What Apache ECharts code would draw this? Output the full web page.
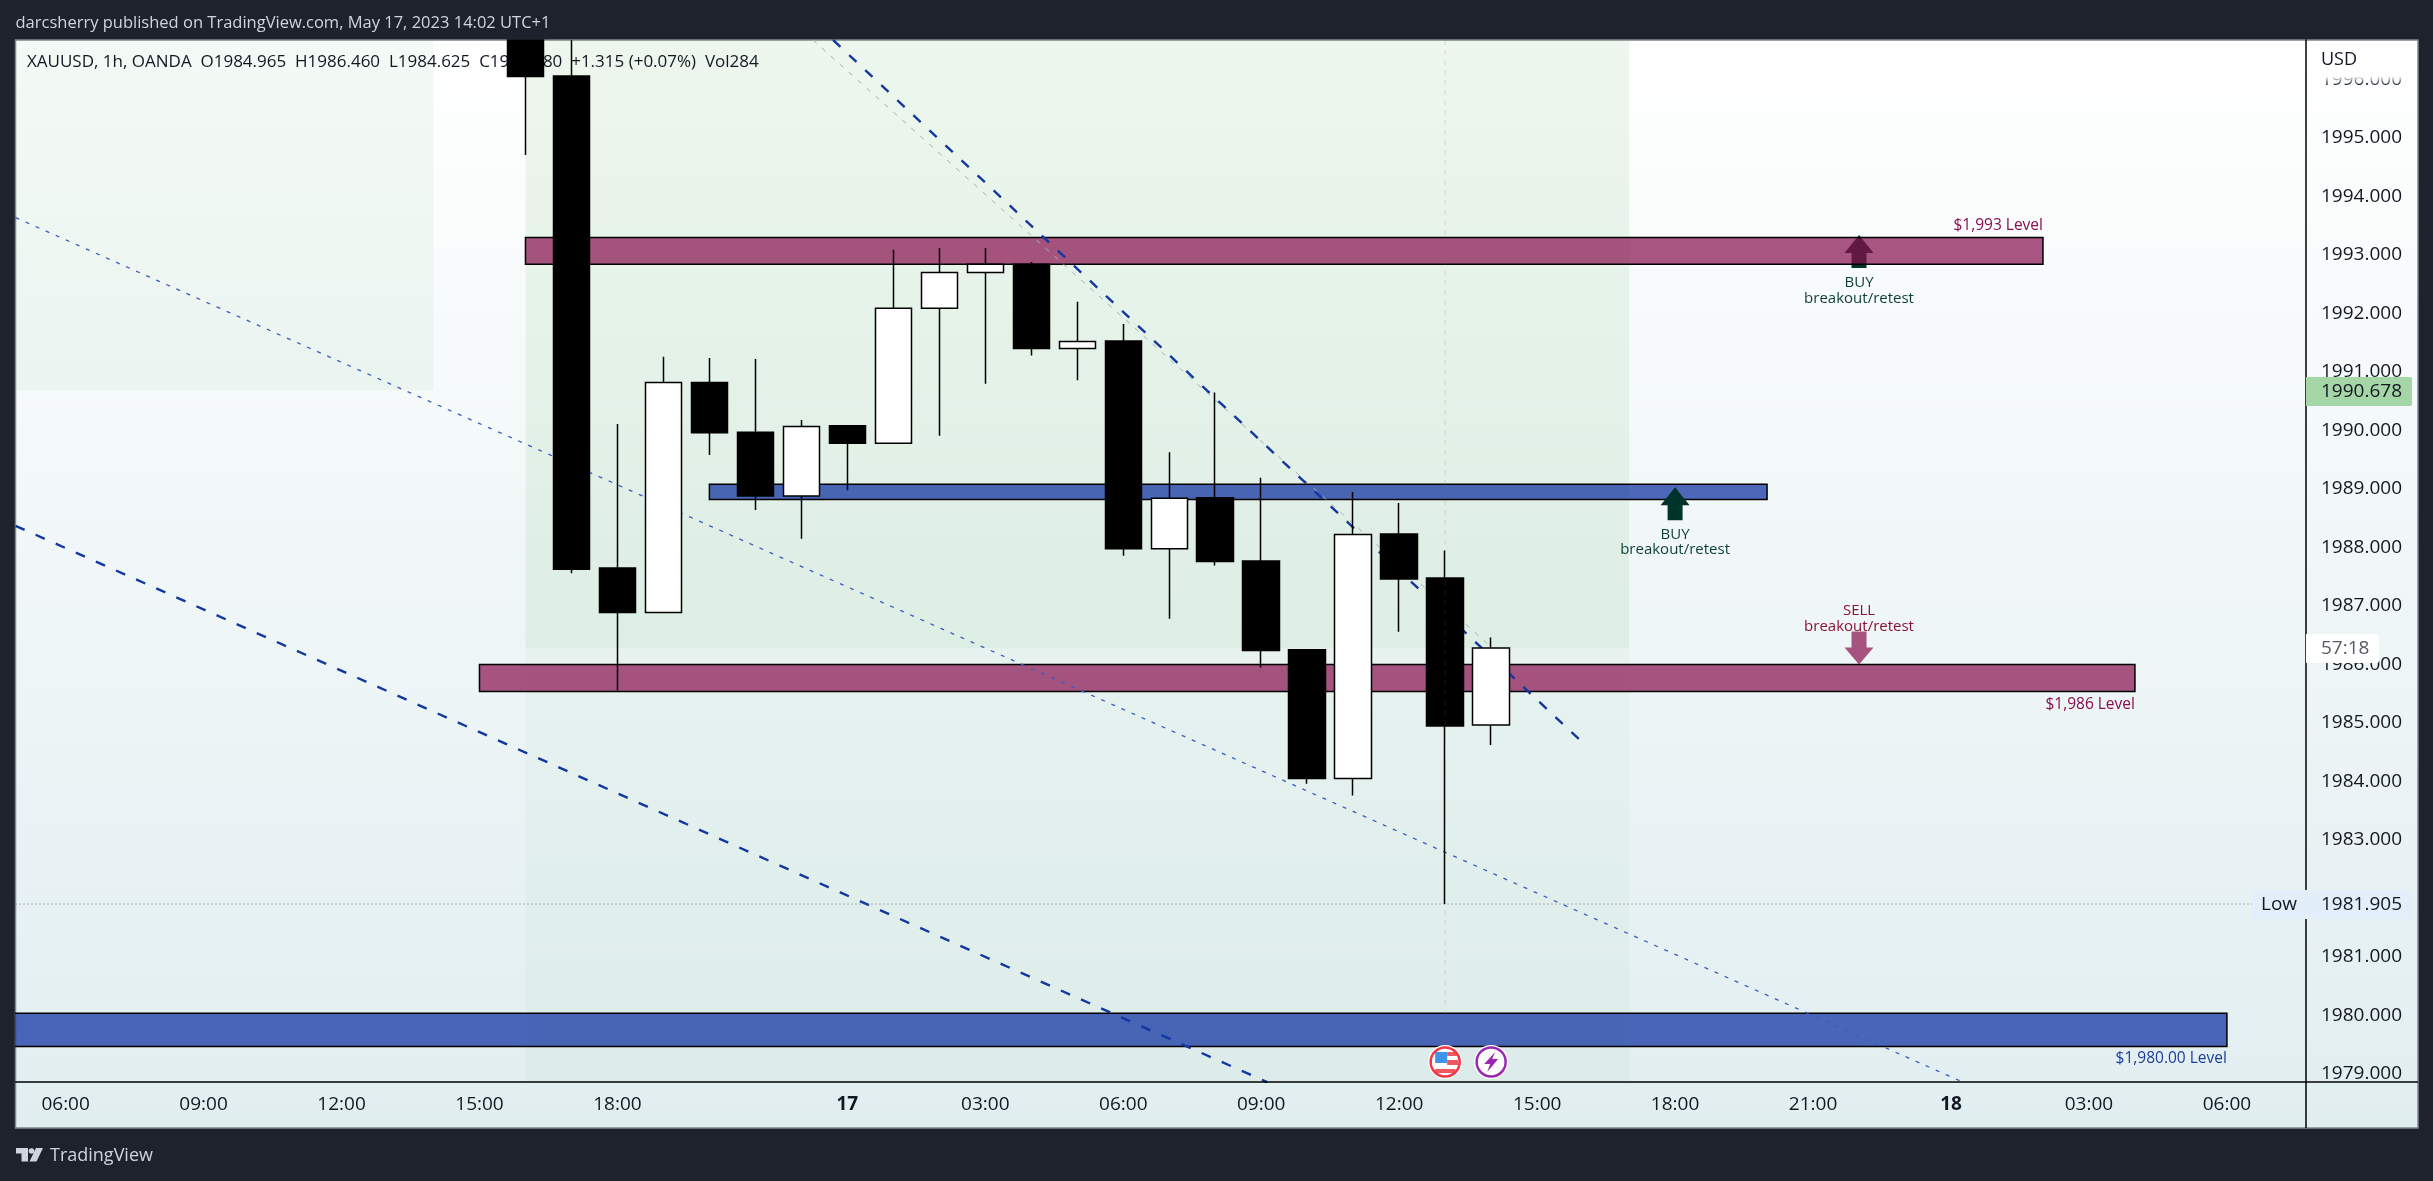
<!DOCTYPE html>
<html>
<head>
<meta charset="utf-8">
<title>XAUUSD 1h</title>
<script src="https://cdn.jsdelivr.net/npm/echarts@6/dist/echarts.min.js"></script>
<style>
html, body { margin: 0; padding: 0; background: #1e222d; }
#chart { width: 2433px; height: 1181px; }
</style>
</head>
<body>
<div id="chart"></div>
<script>
// bar index 0 = 06:00 on the 16th, one index per traded hour
var candleIdx = [10, 11, 12, 13, 14, 15, 16, 17, 18, 19, 20, 21, 22, 23, 24, 25, 26, 27, 28, 29, 30, 31];
// the first two candles run off the top of the pane, so they stop at the pane edge here
var candleOpen = [1996.675, 1996.06, 1987.65, 1986.89, 1990.82, 1989.97, 1988.88, 1990.08, 1989.78, 1992.09, 1992.70, 1992.84, 1991.40, 1991.53, 1987.98, 1988.85, 1987.77, 1986.25, 1984.05, 1988.23, 1987.48, 1984.965];
var candleClose = [1996.05, 1987.63, 1986.89, 1990.82, 1989.96, 1988.88, 1990.07, 1989.78, 1992.09, 1992.70, 1992.84, 1991.40, 1991.52, 1987.98, 1988.84, 1987.76, 1986.24, 1984.05, 1988.22, 1987.46, 1984.95, 1986.28];
var candleLow = [1994.71, 1987.56, 1985.56, 1986.89, 1989.58, 1988.64, 1988.15, 1988.98, 1989.78, 1989.91, 1990.80, 1991.28, 1990.86, 1987.86, 1986.78, 1987.69, 1985.95, 1983.96, 1983.76, 1986.56, 1981.905, 1984.625];
var candleHigh = [1996.675, 1996.675, 1990.11, 1991.26, 1991.24, 1991.22, 1990.18, 1990.08, 1993.09, 1993.12, 1993.12, 1992.88, 1992.20, 1991.82, 1989.63, 1990.65, 1989.19, 1986.25, 1988.95, 1988.76, 1987.95, 1986.46];

var xTickValues = [0, 3, 6, 9, 12, 17, 20, 23, 26, 29, 32, 35, 38, 41, 44, 47];
var xTickLabels = ['06:00', '09:00', '12:00', '15:00', '18:00', '17', '03:00', '06:00', '09:00', '12:00', '15:00', '18:00', '21:00', '18', '03:00', '06:00'];
var yTickValues = [1979, 1980, 1981, 1982, 1983, 1984, 1985, 1986, 1987, 1988, 1989, 1990, 1991, 1992, 1993, 1994, 1995, 1996];

// shaded zones
var zoneX0 = [-3, 10, 10];
var zoneX1 = [8, 34, 34];
var zoneHigh = [1998, 1998, 1986.28];
var zoneLow = [1990.69, 1986.28, 1975];

// level bands
var bandX0 = [10, 14, 9, -3];
var bandX1 = [43, 37, 45, 47];
var bandHigh = [1993.30, 1989.08, 1986.00, 1980.04];
var bandLow = [1992.84, 1988.82, 1985.54, 1979.47];

// trend lines, [start, end] pairs
var trendThin = [[-1.09, 1993.64], [41.26, 1978.86]];
var trendLower = [[-1.09, 1988.37], [26.13, 1978.86]];
var trendSteep = [[16.69, 1996.675], [32.93, 1984.71]];
var trendGrey = [[16.25, 1996.675], [31.0, 1986.30]];
var sessionLine = [[30, 1996.675], [30, 1979.45]];

var lastPrice = 1990.678;
var lowPrice = 1981.905;
var countdown = '57:18';
var lowLine = [[-1.09, lowPrice], [47.55, lowPrice]];

// arrows: tip position
var arrowX = [39, 39, 35];
var arrowTip = [1993.34, 1986.00, 1989.03];
var arrowDir = ['up', 'down', 'up'];

var levelText = ['$1,993 Level', '$1,986 Level', '$1,980.00 Level'];
var levelX = [43, 45, 47];
var levelY = [1993.51, 1985.32, 1979.26];

var noteText = ['BUY\nbreakout/retest', 'BUY\nbreakout/retest', 'SELL\nbreakout/retest'];
var noteX = [39, 35, 39];
var noteY = [1992.39, 1988.09, 1986.78];

var eventX = [30, 31];
var eventY = 1979.205;

var font = '"Open Sans", "Noto Sans", sans-serif';
var inkColor = '#131722';
var zoneColors = ['rgba(76,175,80,0.06)', 'rgba(76,175,80,0.10)', 'rgba(76,175,80,0.04)'];
var bandColors = ['rgba(136,14,79,0.7)', 'rgba(13,47,161,0.72)', 'rgba(136,14,79,0.7)', 'rgba(13,47,161,0.72)'];
var levelColors = ['#880e4f', '#880e4f', '#1a3d9e'];
var noteColors = ['#0e3d36', '#0e3d36', '#8a1433'];
var arrowColors = ['#00332a', 'rgba(136,14,79,0.7)', '#00332a'];

function rectItem(params, api) {
	var p0 = api.coord([api.value(0), api.value(2)]);
	var p1 = api.coord([api.value(1), api.value(3)]);
	return { x: p0[0], y: p0[1], width: p1[0] - p0[0], height: p1[1] - p0[1] };
}

function arrowShape(index, x, y) {
	var s = arrowDir[index] == 'up' ? 1 : -1;
	var headLen = s > 0 ? 18 : 17;
	var points = [
		[x, y],
		[x + 14.5, y + s * headLen],
		[x + 7.5, y + s * headLen],
		[x + 7.5, y + s * 33],
		[x - 7.5, y + s * 33],
		[x - 7.5, y + s * headLen],
		[x - 14.5, y + s * headLen]
	];
	return { type: 'polygon', shape: { points: points }, style: { fill: arrowColors[index] } };
}

function renderArrow(params, api) {
	var pt = api.coord([api.value(0), api.value(1)]);
	return arrowShape(api.value(2), pt[0], pt[1]);
}

function renderEvent(params, api) {
	var pt = api.coord([api.value(0), eventY]);
	if (params.dataIndex == 0) {
		return { type: 'group', x: pt[0], y: pt[1], children: [
			{ type: 'circle', shape: { r: 17 }, style: { fill: '#ffffff' } },
			{ type: 'rect', shape: { x: -10, y: -10, width: 12, height: 11 }, style: { fill: '#3d94e8' } },
			{ type: 'rect', shape: { x: 2, y: -10, width: 10, height: 4 }, style: { fill: '#f0585f' } },
			{ type: 'rect', shape: { x: 2, y: -2, width: 11, height: 5 }, style: { fill: '#f0585f' } },
			{ type: 'rect', shape: { x: -10, y: 7, width: 20, height: 4 }, style: { fill: '#f0585f' } },
			{ type: 'circle', shape: { r: 14.5 }, style: { fill: 'none', stroke: '#f23645', lineWidth: 2.5 } }
		] };
	}
	return { type: 'group', x: pt[0], y: pt[1], children: [
		{ type: 'circle', shape: { r: 17 }, style: { fill: '#ffffff' } },
		{ type: 'circle', shape: { r: 14.5 }, style: { fill: 'none', stroke: '#9c27b0', lineWidth: 2.5 } },
		{ type: 'polygon', shape: { points: [[4, -10], [-7, 2], [-1, 2], [-4, 10], [7, -3], [1, -3]] }, style: { fill: '#9c27b0' } }
	] };
}

var zoneData = zoneX0.map(function(v, i) { return [v, zoneX1[i], zoneHigh[i], zoneLow[i]]; });
var bandData = bandX0.map(function(v, i) { return [v, bandX1[i], bandHigh[i], bandLow[i]]; });
var candleData = candleIdx.map(function(v, i) { return [v, candleOpen[i], candleClose[i], candleLow[i], candleHigh[i]]; });
var arrowData = arrowX.map(function(v, i) { return [v, arrowTip[i], i]; });

function lineSeries(data, color, width, dash, z) {
	return {
		type: 'line',
		data: data,
		z: z,
		symbol: 'none',
		silent: true,
		clip: true,
		lineStyle: { color: color, width: width, type: dash, cap: 'butt' }
	};
}

var option = {
	backgroundColor: '#1e222d',
	animation: false,
	grid: { left: 15.5, right: 127, top: 40, bottom: 99, containLabel: false },
	xAxis: {
		type: 'value',
		min: -1.09,
		max: 48.72,
		z: 10,
		splitLine: { show: false },
		axisTick: { show: false },
		axisLine: { onZero: false, lineStyle: { color: '#000', width: 1.5 } },
		axisLabel: {
			customValues: xTickValues,
			margin: 13,
			color: inkColor,
			fontFamily: font,
			fontSize: 19,
			formatter: function(v) {
				var label = xTickLabels[xTickValues.indexOf(v)];
				return label.length == 2 ? '{d|' + label + '}' : label;
			},
			rich: { d: { fontFamily: font, fontSize: 19, fontWeight: 'bold', color: inkColor } }
		}
	},
	yAxis: {
		type: 'value',
		position: 'right',
		min: 1978.863,
		max: 1996.675,
		z: 10,
		splitLine: { show: false },
		axisTick: { show: false },
		axisLine: { show: true, onZero: false, lineStyle: { color: '#000', width: 1.5 } },
		axisLabel: {
			customValues: yTickValues,
			margin: 15,
			color: inkColor,
			fontFamily: font,
			fontSize: 19,
			formatter: function(v) { return v.toFixed(3); }
		}
	},
	graphic: { elements: [
		{
			type: 'rect', z: -10, silent: true,
			shape: { x: 15.5, y: 40, width: 2402.5, height: 1088 },
			style: {
				stroke: '#7f8590', lineWidth: 1.5,
				fill: new echarts.graphic.LinearGradient(0, 0, 0, 1, [
					{ offset: 0, color: '#ffffff' },
					{ offset: 1, color: '#e1eef0' }
				])
			}
		},
		{ type: 'line', z: 10, shape: { x1: 2306, y1: 1082, x2: 2418, y2: 1082 }, style: { stroke: '#000', lineWidth: 1.5 } },
		{ type: 'line', z: 10, shape: { x1: 2306, y1: 1082, x2: 2306, y2: 1128 }, style: { stroke: '#000', lineWidth: 1.5 } },
		{ type: 'text', z: 1, style: { x: 15.5, y: 23, text: 'darcsherry published on TradingView.com, May 17, 2023 14:02 UTC+1', fill: '#d1d4dc', font: '16.5px ' + font, verticalAlign: 'middle' } },
		{ type: 'text', z: 1, style: { x: 27, y: 62, text: 'XAUUSD, 1h, OANDA  O1984.965  H1986.460  L1984.625  C1986.280  +1.315 (+0.07%)  Vol284', fill: inkColor, font: '17px ' + font, verticalAlign: 'middle' } },
		// top of the price scale fades out under the currency label
		{
			type: 'rect', z: 15,
			shape: { x: 2308, y: 41, width: 109, height: 44 },
			style: {
				fill: new echarts.graphic.LinearGradient(0, 0, 0, 1, [
					{ offset: 0, color: 'rgba(255,255,255,1)' },
					{ offset: 0.8, color: 'rgba(255,255,255,1)' },
					{ offset: 1, color: 'rgba(255,255,255,0)' }
				])
			}
		},
		{ type: 'text', z: 16, style: { x: 2321, y: 60, text: 'USD', fill: inkColor, font: '18px ' + font, verticalAlign: 'middle' } },
		// price tags on the scale
		{ type: 'rect', z: 20, shape: { x: 2306, y: 377, width: 106, height: 29, r: [0, 2, 2, 0] }, style: { fill: '#a5d6a7' } },
		{ type: 'text', z: 21, style: { x: 2321, y: 391.5, text: lastPrice.toFixed(3), fill: inkColor, font: '19px ' + font, verticalAlign: 'middle' } },
		{ type: 'rect', z: 20, shape: { x: 2306, y: 634, width: 73, height: 29, r: [0, 2, 2, 0] }, style: { fill: '#ffffff' } },
		{ type: 'text', z: 21, style: { x: 2321, y: 648.5, text: countdown, fill: '#555a63', font: '19px ' + font, verticalAlign: 'middle' } },
		{ type: 'rect', z: 20, shape: { x: 2252, y: 890, width: 160, height: 29, r: 2 }, style: { fill: '#e3eefb' } },
		{ type: 'text', z: 21, style: { x: 2261, y: 904.5, text: 'Low', fill: inkColor, font: '19px ' + font, verticalAlign: 'middle' } },
		{ type: 'text', z: 21, style: { x: 2321, y: 904.5, text: lowPrice.toFixed(3), fill: inkColor, font: '19px ' + font, verticalAlign: 'middle' } },
		// footer logo
		{ type: 'rect', shape: { x: 16, y: 1148, width: 12, height: 5.5 }, style: { fill: '#d1d4dc' } },
		{ type: 'rect', shape: { x: 21.5, y: 1148, width: 6.5, height: 13.5 }, style: { fill: '#d1d4dc' } },
		{ type: 'circle', shape: { cx: 31.5, cy: 1151, r: 2.8 }, style: { fill: '#d1d4dc' } },
		{ type: 'polygon', shape: { points: [[36, 1148], [43, 1148], [36.5, 1161.5], [29.5, 1161.5]] }, style: { fill: '#d1d4dc' } },
		{ type: 'text', style: { x: 50, y: 1155.5, text: 'TradingView', fill: '#d1d4dc', font: '18px ' + font, verticalAlign: 'middle' } }
	] },
	series: [
		{
			type: 'custom', z: 0, silent: true, clip: true,
			encode: { x: [0, 1], y: [2, 3] },
			data: zoneData,
			renderItem: function(params, api) {
				return { type: 'rect', shape: rectItem(params, api), style: { fill: zoneColors[params.dataIndex] } };
			}
		},
		{
			type: 'custom', z: 2, silent: true,
			encode: { x: 0, y: 1 },
			data: arrowData.slice(0, 2),
			renderItem: renderArrow
		},
		{
			type: 'custom', z: 3, silent: true, clip: true,
			encode: { x: [0, 1], y: [2, 3] },
			data: bandData,
			renderItem: function(params, api) {
				return { type: 'rect', shape: rectItem(params, api), style: { fill: bandColors[params.dataIndex], stroke: '#000', lineWidth: 1.5 } };
			}
		},
		lineSeries(trendThin, '#3a5cc4', 1.3, [4, 7], 4),
		lineSeries(trendGrey, '#a9b2ad', 1, [5, 7], 4),
		lineSeries(trendLower, '#1238a0', 2.4, [10, 12], 4),
		lineSeries(trendSteep, '#1238a0', 2.4, [10, 12], 4),
		lineSeries(lowLine, '#6b7280', 1, [1, 3], 4),
		{
			type: 'custom', z: 5, silent: true,
			encode: { x: 0, y: 1 },
			data: arrowData.slice(2),
			renderItem: renderArrow
		},
		{
			type: 'candlestick', z: 6, silent: true,
			barWidth: 37,
			encode: { x: 0, y: [1, 2, 3, 4] },
			data: candleData,
			itemStyle: { color: '#ffffff', color0: '#000000', borderColor: '#000000', borderColor0: '#000000', borderWidth: 1.5 }
		},
		lineSeries(sessionLine, 'rgba(242,54,69,0.2)', 1, [5, 5], 7),
		{
			type: 'custom', z: 8, silent: true,
			encode: { x: 0, y: 1 },
			data: levelX.map(function(v, i) { return [v, levelY[i]]; }),
			renderItem: function(params, api) {
				var pt = api.coord([api.value(0), api.value(1)]);
				return { type: 'text', style: { x: pt[0], y: pt[1], text: levelText[params.dataIndex], fill: levelColors[params.dataIndex], font: '15.5px ' + font, align: 'right', verticalAlign: 'middle' } };
			}
		},
		{
			type: 'custom', z: 8, silent: true,
			encode: { x: 0, y: 1 },
			data: noteX.map(function(v, i) { return [v, noteY[i]]; }),
			renderItem: function(params, api) {
				var pt = api.coord([api.value(0), api.value(1)]);
				return { type: 'text', style: { x: pt[0], y: pt[1], text: noteText[params.dataIndex], fill: noteColors[params.dataIndex], font: '15px ' + font, lineHeight: 15.5, align: 'center', verticalAlign: 'middle' } };
			}
		},
		{
			type: 'custom', z: 9, silent: true,
			encode: { x: 0 },
			data: eventX.map(function(v) { return [v]; }),
			renderItem: renderEvent
		}
	]
};

var myChart = echarts.init(document.getElementById('chart'));
myChart.setOption(option);
</script>
</body>
</html>
